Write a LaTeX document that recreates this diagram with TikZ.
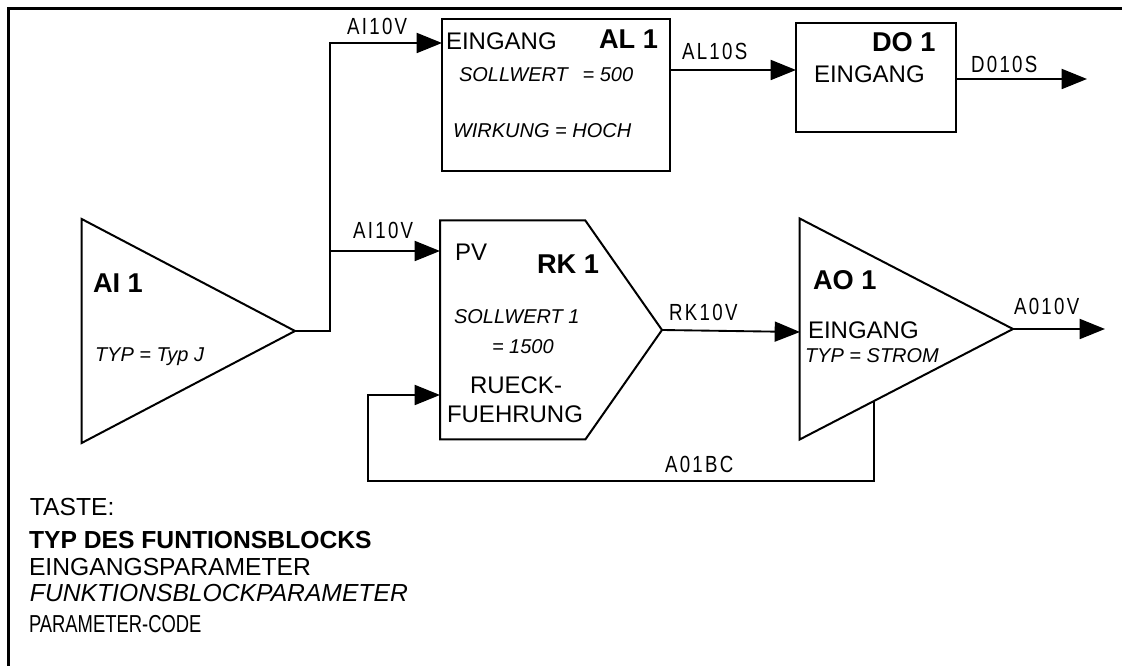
\documentclass[tikz,border=0pt]{standalone}
\usepackage{fontspec}
\setmainfont{Liberation Sans}
\newfontfamily\narrowfont[FakeStretch=0.75]{Liberation Sans}
\newfontfamily\tagfont[FakeStretch=0.8,LetterSpace=10]{Liberation Sans}
\usetikzlibrary{
  shapes.geometric,
  shapes.symbols,
  arrows.meta,
  calc
}

\begin{document}
\begin{tikzpicture}[
    x=0.75pt,
    y=-0.75pt,
    block/.style={
      draw=black,
      line width=1.5pt,
      inner sep=0pt,
      outer sep=0pt
    },
    wedge/.style={
      block,
      isosceles triangle,
      isosceles triangle stretches,
      shape border rotate=0,
      minimum width=#1,
      minimum height=160pt,
      anchor=apex
    },
    txt/.style={
      anchor=base west,
      inner sep=0pt,
      outer sep=0pt,
      text=black
    },
    blkname/.style={txt, font=\bfseries\fontsize{20.4pt}{24pt}\selectfont},
    inparam/.style={txt, font=\fontsize{18pt}{21pt}\selectfont},
    fbparam/.style={txt, font=\itshape\fontsize{15pt}{18pt}\selectfont},
    keytext/.style={txt, font=\fontsize{18.5pt}{21pt}\selectfont},
    tag/.style={txt, font=\tagfont\fontsize{17.5pt}{20pt}\selectfont},
    wire/.style={
      line width=1.4pt,
      draw=black
    },
    arrow/.style={
      wire,
      -{Triangle[length=19pt, width=15pt]}
    }
  ]
    \useasboundingbox (0,0) rectangle (1122,666);

    % Frame, left and top only
    \coordinate (framebl) at (8.5,666);
    \coordinate (frametl) at (8.5,8.5);
    \coordinate (frametr) at (1122,8.5);
    \draw[line width=2pt] (framebl) -- (frametl) -- (frametr);

    % Blocks
    \node[block, wedge=168pt] (ai) at (295,331) {};
    \node[block, rectangle, minimum width=171pt, minimum height=114pt] (al) at (556,95) {};
    \node[block, rectangle, minimum width=120pt, minimum height=81.75pt] (do) at (876,77.5) {};
    \node[block, signal, signal to=east, signal from=nowhere, signal pointer angle=110,
      minimum width=166.5pt, minimum height=164.25pt, anchor=west] (rk) at (440,330) {};
    \node[block, wedge=165.75pt] (ao) at (1013,329) {};

    % Ports and free ends
    \coordinate (branch) at (330,251);
    \coordinate (alin) at (442,43);
    \coordinate (pvin) at (440,251);
    \coordinate (fbin) at (440,395);
    \coordinate (alout) at (670,70);
    \coordinate (doin) at (796,70);
    \coordinate (doout) at (956,79);
    \coordinate (doend) at (1087,79);
    \coordinate (aoin) at (800,332);
    \coordinate (aoend) at (1105,329);
    \coordinate (aofb) at (874,401);
    \coordinate (fbcorner) at (368,481);

    % Connectors
    \draw[arrow] (ai.apex) -- (ai.apex -| branch) -- (branch |- alin) -- (alin);
    \draw[arrow] (branch) -- (pvin);
    \draw[arrow] (alout) -- (doin);
    \draw[arrow] (doout) -- (doend);
    \draw[arrow] (rk.east) -- (aoin);
    \draw[arrow] (ao.apex) -- (aoend);
    \draw[arrow] (aofb) |- (fbcorner) |- (fbin);

    % Connector labels
    \node[tag] (tagaltop) at (347,35) {AI10V};
    \node[tag] (tagrkin) at (353,239) {AI10V};
    \node[tag] (tagalout) at (682,60) {AL10S};
    \node[tag] (tagdoout) at (971,73) {D010S};
    \node[tag] (tagrkout) at (669,321) {RK10V};
    \node[tag] (tagaoout) at (1014,315) {A010V};
    \node[tag] (tagfb) at (665,473) {A01BC};

    % Text in the blocks
    \node[blkname] (ainame) at (93,293) {AI 1};
    \node[fbparam] (aityp) at (95,362) {TYP = Typ J};

    \node[inparam] (alport) at (446,50) {EINGANG};
    \node[blkname] (alname) at (599,49) {AL 1};
    \node[fbparam] (alset) at (459,82) {SOLLWERT\hspace{11pt}= 500};
    \node[fbparam] (alact) at (453,138) {WIRKUNG = HOCH};

    \node[blkname] (doname) at (872,52) {DO 1};
    \node[inparam] (doport) at (814,83) {EINGANG};

    \node[inparam] (rkpv) at (455,261) {PV};
    \node[blkname] (rkname) at (537,274) {RK 1};
    \node[fbparam] (rkset) at (454,324) {SOLLWERT 1};
    \node[fbparam] (rkval) at (492,354) {= 1500};
    \node[inparam] (rkfba) at (470,394) {RUECK-};
    \node[inparam] (rkfbb) at (447,423) {FUEHRUNG};

    \node[blkname] (aoname) at (813,290) {AO 1};
    \node[inparam] (aoport) at (808,339) {EINGANG};
    \node[fbparam] (aotyp) at (805,363) {TYP = STROM};

    % Key
    \node[keytext] (keyhead) at (30,516) {TASTE:};
    \node[keytext, font=\bfseries\fontsize{18.5pt}{21pt}\selectfont] (keyname) at (29,549) {TYP DES FUNTIONSBLOCKS};
    \node[keytext] (keyin) at (29,576) {EINGANGSPARAMETER};
    \node[keytext, font=\itshape\fontsize{18.5pt}{21pt}\selectfont] (keyfb) at (30,602) {FUNKTIONSBLOCKPARAMETER};
    \node[keytext, font=\narrowfont\fontsize{18.4pt}{21pt}\selectfont] (keycode) at (29,633) {PARAMETER-CODE};
  \end{tikzpicture}
\end{document}
